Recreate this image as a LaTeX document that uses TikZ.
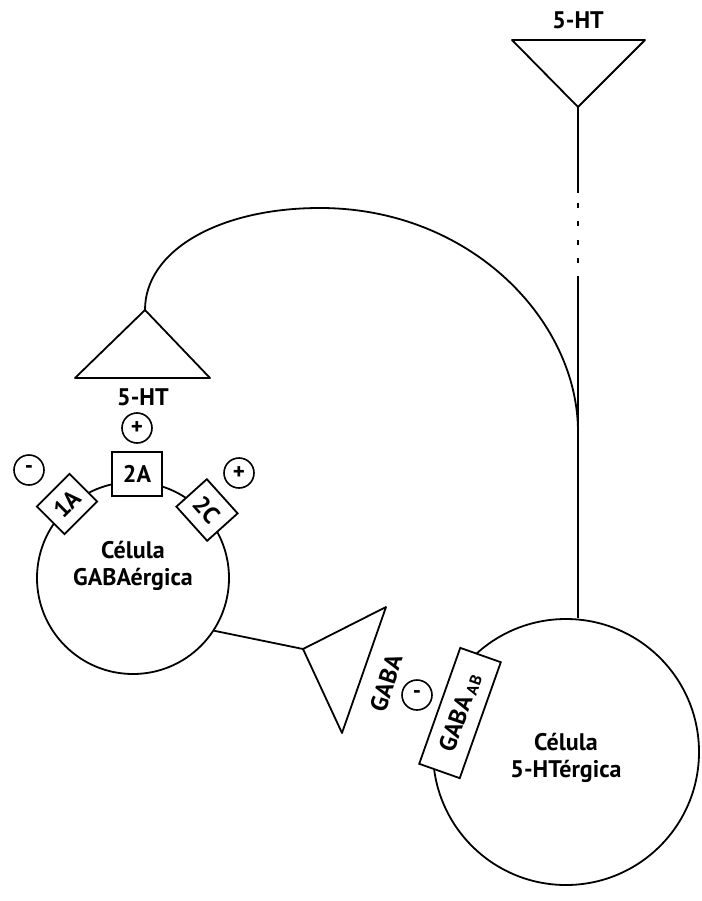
\documentclass[tikz,border=0pt]{standalone}
\usepackage{fontspec}
\setmainfont{PT Sans}
\begin{document}
\begin{tikzpicture}[x=1pt,y=-1pt,line width=1.8pt,
  lbl/.style={font=\fontsize{24}{27}\selectfont\bfseries, inner sep=1pt},
  cell/.style={draw, circle, line width=1.8pt},
  sign/.style={draw, circle, minimum size=30pt, inner sep=0pt, line width=1.6pt, font=\fontsize{23}{23}\selectfont\bfseries},
  rec/.style={draw, fill=white, line width=1.8pt, inner sep=1pt, font=\fontsize{24}{26}\selectfont\bfseries}]
\useasboundingbox (0,0) rectangle (701,901);
% top 5-HT terminal
\coordinate (t1a) at (512,40);
\coordinate (t1b) at (645,40);
\coordinate (t1c) at (578,107);
\draw[line join=round] (t1a) -- (t1b) -- (t1c) -- cycle;
\node[lbl] (ht1) at (578,20) {5-HT};
% 5-HT cell
\node[cell, minimum size=266pt] (hcell) at (566,752) {};
\node[lbl, align=center] (htxt) at (566,758) {Célula\\5-HTérgica};
% axon with dotted gap
\coordinate (ax1) at (578,193);
\coordinate (ax2) at (578,277);
\coordinate (join) at (578,432);
\draw (t1c) -- (ax1);
\draw[line width=2pt, dash pattern=on 5pt off 13.3pt] (578,203) -- (ax2);
\draw (ax2) -- (hcell.north -| ax2);
% collateral arc to left terminal
\coordinate (t2a) at (75,378);
\coordinate (t2b) at (210,378);
\coordinate (t2c) at (145,310);
\draw[line join=round] (t2a) -- (t2b) -- (t2c) -- cycle;
\draw (t2c) .. controls (145,250) and (220,208) .. (320,208)
            .. controls (470,208) and (578,320) .. (join);
\node[lbl] (ht2) at (143,397) {5-HT};
\node[sign] (p1) at (137,428) {+};
% GABA cell
\node[cell, minimum size=192pt] (gcell) at (133,578) {};
\node[lbl, align=center] (gtxt) at (133,566) {Célula\\GABAérgica};
\node[rec, minimum width=50pt, minimum height=44pt] (r2a) at (137,474) {2A};
\node[rec, minimum width=46pt, minimum height=39pt, rotate=45] (r1a) at (67,504) {1A};
\node[rec, minimum width=46pt, minimum height=41pt, rotate=-48] (r2c) at (207,510) {2C};
\node[sign] (m1) at (29,470) {-};
\node[sign] (p2) at (239,473) {+};
% GABA terminal
\coordinate (t3a) at (303,649);
\coordinate (t3b) at (386,607);
\coordinate (t3c) at (342,733);
\draw (gcell.-33) -- (t3a);
\draw[line join=round] (t3a) -- (t3b) -- (t3c) -- cycle;
\node[lbl, rotate=72] (gaba) at (386,683) {GABA};
\node[sign] (m2) at (417,695) {-};
\node[rec, minimum width=123pt, minimum height=43pt, rotate=70.5] (rgab) at (460,713) {GABA\,{\fontsize{16}{16}\selectfont\raisebox{-2pt}{AB}}};
\end{tikzpicture}
\end{document}
